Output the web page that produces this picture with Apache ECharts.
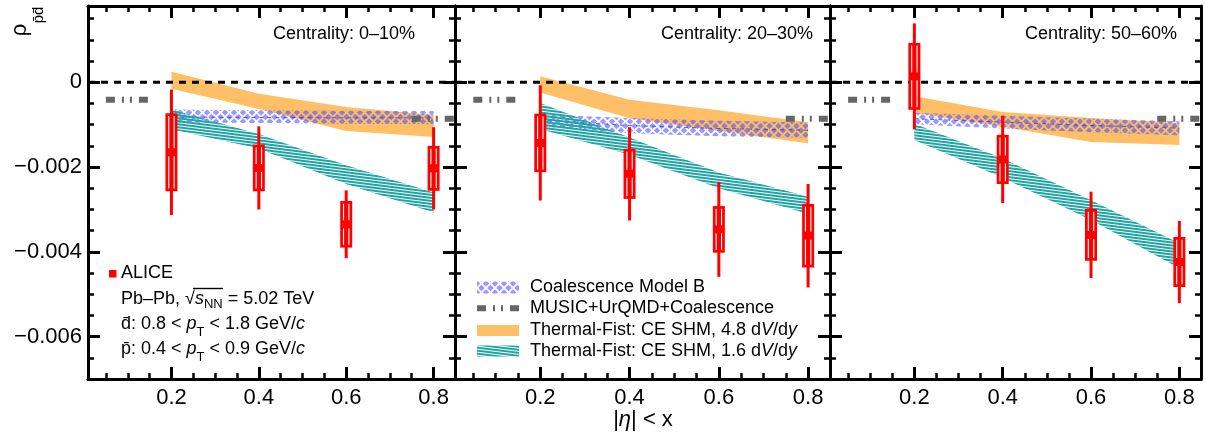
<!DOCTYPE html>
<html><head><meta charset="utf-8">
<script src="https://cdn.jsdelivr.net/npm/echarts@6/dist/echarts.min.js"></script>
<style>html,body{margin:0;padding:0;background:#fff}#c{width:1206px;height:436px}</style>
</head><body><div id="c"></div><script>
// ---------- data ----------
const xTicks = [0.2, 0.4, 0.6, 0.8];
const xTickLabels = ['0.2', '0.4', '0.6', '0.8'];
const xMinorTicks = [0.05, 0.1, 0.15, 0.25, 0.3, 0.35, 0.45, 0.5, 0.55, 0.65, 0.7, 0.75];
const yTicks = [0, -0.002, -0.004, -0.006];
const yTickLabels = ['0', '\u22120.002', '\u22120.004', '\u22120.006'];
const yMinorTicks = [0.0015, 0.001, 0.0005, -0.0005, -0.001, -0.0015, -0.0025, -0.003, -0.0035, -0.0045, -0.005, -0.0055, -0.0065];
const xRange = [0.009, 0.849];
const yRange = [-0.007, 0.0018];
const centralities = ['Centrality: 0\u201310%', 'Centrality: 20\u201330%', 'Centrality: 50\u201360%'];
const etaX = [0.2, 0.4, 0.6, 0.8];

const aliceY = [
  [-0.00165, -0.00202, -0.00335, -0.00203],
  [-0.00143, -0.00216, -0.00347, -0.00362],
  [0.00014, -0.00182, -0.00360, -0.00424]
];
const aliceStat = [
  [0.00148, 0.00098, 0.00080, 0.00097],
  [0.00136, 0.00110, 0.00112, 0.00122],
  [0.00125, 0.00103, 0.00102, 0.00097]
];
const aliceSys = [
  [0.00092, 0.00055, 0.00055, 0.00053],
  [0.00069, 0.00059, 0.00055, 0.00075],
  [0.00079, 0.00058, 0.00061, 0.00059]
];

// Thermal-Fist CE SHM 4.8 dV/dy
const orangeHi = [
  [0.00025, -0.00027, -0.00058, -0.00077],
  [0.00014, -0.00041, -0.00066, -0.00094],
  [-0.00033, -0.00070, -0.00084, -0.00096]
];
const orangeLo = [
  [-0.00015, -0.00063, -0.00115, -0.00129],
  [-0.00024, -0.00085, -0.00115, -0.00144],
  [-0.00072, -0.00105, -0.00141, -0.00148]
];
// Coalescence Model B
const blueHi = [
  [-0.00064, -0.00066, -0.00067, -0.00068],
  [-0.00076, -0.00084, -0.00091, -0.00095],
  [-0.00072, -0.00079, -0.00086, -0.00092]
];
const blueLo = [
  [-0.00095, -0.00096, -0.00098, -0.00099],
  [-0.00104, -0.00120, -0.00127, -0.00131],
  [-0.00099, -0.00109, -0.00118, -0.00125]
];
const blueMid = [
  [-0.00082, -0.00083, -0.00084, -0.00084],
  [-0.00089, -0.00102, -0.00109, -0.00113],
  [-0.00086, -0.00094, -0.00102, -0.00108]
];
// Thermal-Fist CE SHM 1.6 dV/dy
const tealHi = [
  [-0.00064, -0.00122, -0.00196, -0.00260],
  [-0.00049, -0.00130, -0.00213, -0.00270],
  [-0.00098, -0.00180, -0.00278, -0.00380]
];
const tealLo = [
  [-0.00111, -0.00156, -0.00240, -0.00307],
  [-0.00110, -0.00171, -0.00250, -0.00310],
  [-0.00136, -0.00225, -0.00325, -0.00439]
];
// MUSIC+UrQMD+Coalescence segments
const musicX = [[0.05, 0.15], [0.75, 0.85]];
const musicY = [
  [-0.00041, -0.00086],
  [-0.00041, -0.00086],
  [-0.00041, -0.00086]
];
const zeroY = 0;

// ---------- styles ----------
const FONT = '"Liberation Sans", Arial, Helvetica, sans-serif';
const RED = '#ff0000';
const ORANGE = '#ffbf66';
const TEAL = '#1fa3a3';
const MUSIC_DASH = [9, 7, 2, 6, 2, 7];
const gridsPos = [{left: 88, width: 367}, {left: 455, width: 375}, {left: 830, width: 371}];

function bluePattern() {
  const s = 9;
  const c = document.createElement('canvas'); c.width = s; c.height = s;
  const g = c.getContext('2d');
  g.fillStyle = 'rgba(80,80,255,0.58)';
  g.fillRect(0, 0, s, s);
  g.globalCompositeOperation = 'destination-out';
  g.strokeStyle = '#000'; g.lineWidth = 1.7;
  for (const o of [-s, 0, s]) {
    g.beginPath(); g.moveTo(o, 0); g.lineTo(o + s, s); g.stroke();
    g.beginPath(); g.moveTo(o + s, 0); g.lineTo(o, s); g.stroke();
  }
  return c;
}
function tealPattern() {
  const w = 24, h = 3;
  const c = document.createElement('canvas'); c.width = w; c.height = h;
  const g = c.getContext('2d');
  g.strokeStyle = TEAL; g.lineWidth = 2.0;
  for (const o of [-h, 0, h]) {
    g.beginPath(); g.moveTo(0, o); g.lineTo(w, o + h); g.stroke();
  }
  return c;
}
const BLUE_FILL = {image: bluePattern(), repeat: 'repeat'};
const TEAL_FILL = {image: tealPattern(), repeat: 'repeat'};

function labelOf(v, vals, labels) {
  for (let i = 0; i < vals.length; i++) if (Math.abs(vals[i] - v) < 1e-9) return labels[i];
  return '';
}

// ---------- axes ----------
const xAxes = [], yAxes = [];
gridsPos.forEach((gp, g) => {
  const bx = {type: 'value', gridIndex: g, min: xRange[0], max: xRange[1], splitLine: {show: false},
    axisLabel: {show: false}, axisLine: {show: false, onZero: false}};
  const major = {show: true, inside: true, length: 12, customValues: xTicks, lineStyle: {color: '#000', width: 3}};
  const minor = {show: true, inside: true, length: 6, customValues: xMinorTicks, lineStyle: {color: '#000', width: 2.5}};
  const line = {show: true, onZero: false, lineStyle: {color: '#000', width: 3}};
  xAxes.push(Object.assign({}, bx, {position: 'bottom', axisLine: line, axisTick: major,
    axisLabel: {show: true, customValues: xTicks, formatter: v => labelOf(v, xTicks, xTickLabels),
      fontSize: 22, color: '#000', fontFamily: FONT, margin: 8}}));
  xAxes.push(Object.assign({}, bx, {position: 'bottom', axisTick: minor}));
  xAxes.push(Object.assign({}, bx, {position: 'top', axisLine: line, axisTick: major}));
  xAxes.push(Object.assign({}, bx, {position: 'top', axisTick: minor}));

  const by = {type: 'value', gridIndex: g, min: yRange[0], max: yRange[1], splitLine: {show: false},
    axisLabel: {show: false}, axisLine: {show: false, onZero: false}};
  const ymajor = {show: true, inside: true, length: 12, customValues: yTicks, lineStyle: {color: '#000', width: 3}};
  const yminor = {show: true, inside: true, length: 6, customValues: yMinorTicks, lineStyle: {color: '#000', width: 2.5}};
  yAxes.push(Object.assign({}, by, {position: 'left', axisLine: line, axisTick: ymajor,
    axisLabel: {show: g === 0, customValues: yTicks, formatter: v => labelOf(v, yTicks, yTickLabels),
      fontSize: 22, color: '#000', fontFamily: FONT, margin: 6}}));
  yAxes.push(Object.assign({}, by, {position: 'left', axisTick: yminor}));
  yAxes.push(Object.assign({}, by, {position: 'right', axisLine: line, axisTick: ymajor}));
  yAxes.push(Object.assign({}, by, {position: 'right', axisTick: yminor}));
});

// ---------- series ----------
function bandSeries(g, lo, hi, style, z) {
  return {
    type: 'custom', xAxisIndex: 4 * g, yAxisIndex: 4 * g, z: z, silent: true, clip: true,
    data: etaX.map((x, i) => [x, lo[i], hi[i]]),
    renderItem(params, api) {
      if (params.dataIndex !== 0) return null;
      const pts = [];
      for (let i = 0; i < etaX.length; i++) pts.push(api.coord([etaX[i], hi[i]]));
      for (let i = etaX.length - 1; i >= 0; i--) pts.push(api.coord([etaX[i], lo[i]]));
      return {type: 'polygon', shape: {points: pts}, style: style};
    }
  };
}

const series = [];
gridsPos.forEach((gp, g) => {
  const ax = {xAxisIndex: 4 * g, yAxisIndex: 4 * g};
  series.push(bandSeries(g, orangeLo[g], orangeHi[g], {fill: ORANGE}, 2));
  series.push(bandSeries(g, blueLo[g], blueHi[g], {fill: BLUE_FILL}, 3));
  series.push(Object.assign({type: 'line', z: 3, silent: true, symbol: 'none',
    data: etaX.map((x, i) => [x, blueMid[g][i]]),
    lineStyle: {color: 'rgba(40,55,230,0.8)', width: 1, type: [4, 4]}}, ax));
  series.push(bandSeries(g, tealLo[g], tealHi[g], {fill: TEAL_FILL}, 4));
  musicX.forEach((seg, k) => {
    series.push(Object.assign({type: 'line', z: 5, silent: true, symbol: 'none',
      data: seg.map(x => [x, musicY[g][k]]),
      lineStyle: {color: '#666666', width: 6, type: MUSIC_DASH, cap: 'butt'}}, ax));
  });
  series.push(Object.assign({type: 'line', z: 6, silent: true, symbol: 'none',
    data: xRange.map(x => [x, zeroY]),
    lineStyle: {color: '#000', width: 3, type: [7, 6], cap: 'butt'}}, ax));
  series.push(Object.assign({
    type: 'custom', z: 10, silent: true, clip: false,
    data: etaX.map((x, i) => [x, aliceY[g][i], aliceStat[g][i], aliceSys[g][i]]),
    renderItem(params, api) {
      const x = api.value(0), y = api.value(1), st = api.value(2), sy = api.value(3);
      const c = api.coord([x, y]);
      const pT = api.coord([x, y + st]), pB = api.coord([x, y - st]);
      const bT = api.coord([x, y + sy]), bB = api.coord([x, y - sy]);
      const hw = 6, bw = 2.7, gap = 4;
      const ch = [
        {type: 'line', shape: {x1: c[0], y1: pT[1], x2: c[0], y2: pB[1]}, style: {stroke: RED, lineWidth: 3}},
        {type: 'rect', shape: {x: c[0] - hw, y: bT[1], width: 2 * hw, height: bB[1] - bT[1]}, style: {fill: RED}}
      ];
      [-2.7, 2.7].forEach(dx => {
        ch.push({type: 'line', shape: {x1: c[0] + dx, y1: bT[1] + bw, x2: c[0] + dx, y2: c[1] - gap}, style: {stroke: '#fff', lineWidth: 1.1}});
        ch.push({type: 'line', shape: {x1: c[0] + dx, y1: c[1] + gap, x2: c[0] + dx, y2: bB[1] - bw}, style: {stroke: '#fff', lineWidth: 1.1}});
      });
      return {type: 'group', children: ch};
    }
  }, ax));
});

// ---------- text / legends ----------
const T = (x, y, text, extra) => ({type: 'text', x: x, y: y, z: 100, silent: true,
  style: Object.assign({text: text, font: '18px ' + FONT, fill: '#000', align: 'left', verticalAlign: 'middle'}, extra || {})});
const rich = {
  n: {fontSize: 18, fontFamily: FONT, lineHeight: 24, fill: '#000'},
  i: {fontSize: 18, fontFamily: FONT, fontStyle: 'italic', lineHeight: 24, fill: '#000'},
  sub: {fontSize: 13, fontFamily: FONT, lineHeight: 12, verticalAlign: 'bottom', fill: '#000'}
};
const richT = {
  n: {fontSize: 18, fontFamily: FONT, lineHeight: 30, fill: '#000'},
  i: {fontSize: 18, fontFamily: FONT, fontStyle: 'italic', lineHeight: 30, fill: '#000'},
  sub: {fontSize: 13, fontFamily: FONT, lineHeight: 12, verticalAlign: 'bottom', fill: '#000'}
};
const centralX = [415, 813, 1177];
const graphic = [];
centralities.forEach((t, g) => graphic.push(T(centralX[g], 34, t, {align: 'right'})));
// y title
graphic.push({type: 'text', x: 20, y: 30, rotation: Math.PI / 2, z: 100, silent: true,
  style: {text: '\u03c1', font: '22px ' + FONT, fill: '#000', align: 'center', verticalAlign: 'middle'}});
graphic.push({type: 'text', x: 39, y: 15, rotation: Math.PI / 2, z: 100, silent: true,
  style: {text: 'p\u0304d\u0304', font: '15px ' + FONT, fill: '#000', align: 'center', verticalAlign: 'middle'}});
// x title
graphic.push({type: 'text', x: 643, y: 420, z: 100, silent: true,
  style: {text: '{a||}{b|\u03b7}{a|| < x}', align: 'center', verticalAlign: 'middle',
    rich: {a: {fontSize: 22, fontFamily: FONT, fill: '#000'}, b: {fontSize: 22, fontFamily: FONT, fontStyle: 'italic', fill: '#000'}}}});
// ALICE legend
graphic.push({type: 'rect', z: 100, silent: true, shape: {x: 109, y: 270, width: 7.5, height: 7.5}, style: {fill: RED}});
graphic.push(T(121, 273, 'ALICE'));
graphic.push(T(121, 299, '{n|Pb\u2013Pb, \u221a}{i|s}{sub|NN}{n| = 5.02 TeV}', {rich: rich}));
graphic.push({type: 'line', z: 100, silent: true, shape: {x1: 193, y1: 288.5, x2: 223, y2: 288.5}, style: {stroke: '#000', lineWidth: 1.4}});
graphic.push(T(121, 324, '{n|d\u0304: 0.8 < }{i|p}{sub|T}{n| < 1.8 GeV/}{i|c}', {rich: richT}));
graphic.push(T(121, 349, '{n|p\u0304: 0.4 < }{i|p}{sub|T}{n| < 0.9 GeV/}{i|c}', {rich: richT}));
// model legend
graphic.push({type: 'rect', z: 100, silent: true, shape: {x: 477, y: 281.5, width: 42, height: 12}, style: {fill: BLUE_FILL}});
graphic.push(T(530, 287.5, 'Coalescence Model B'));
graphic.push({type: 'line', z: 100, silent: true, shape: {x1: 477, y1: 308.3, x2: 519, y2: 308.3},
  style: {stroke: '#666666', lineWidth: 6, lineDash: MUSIC_DASH, lineCap: 'butt'}});
graphic.push(T(530, 308.5, 'MUSIC+UrQMD+Coalescence'));
graphic.push({type: 'rect', z: 100, silent: true, shape: {x: 477, y: 325, width: 42, height: 11}, style: {fill: ORANGE}});
graphic.push(T(530, 330, '{n|Thermal-Fist: CE SHM, 4.8 d}{i|V}{n|/d}{i|y}', {rich: rich}));
graphic.push({type: 'rect', z: 100, silent: true, shape: {x: 477, y: 345.5, width: 42, height: 11}, style: {fill: TEAL_FILL}});
graphic.push(T(530, 351, '{n|Thermal-Fist: CE SHM, 1.6 d}{i|V}{n|/d}{i|y}', {rich: rich}));

const chart = echarts.init(document.getElementById('c'), null, {renderer: 'canvas'});
chart.setOption({
  animation: false,
  backgroundColor: '#ffffff',
  grid: gridsPos.map(gp => ({left: gp.left, top: 6, width: gp.width, height: 373, containLabel: false})),
  xAxis: xAxes,
  yAxis: yAxes,
  series: series,
  graphic: graphic
});
</script></body></html>
